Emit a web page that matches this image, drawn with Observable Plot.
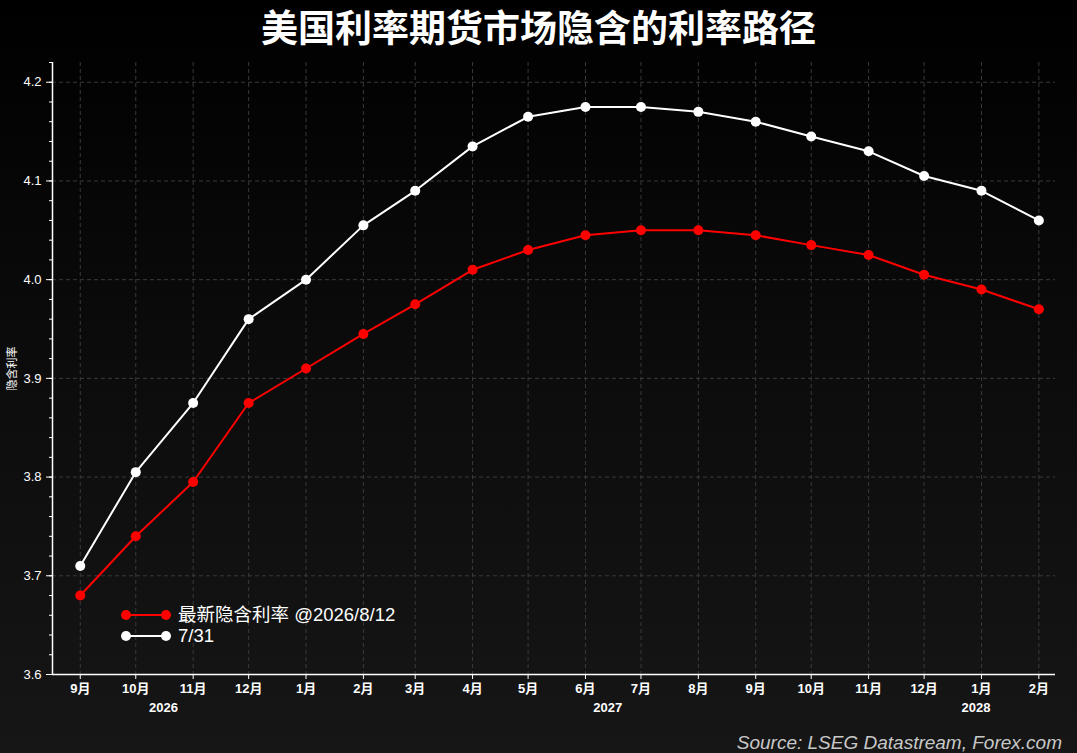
<!DOCTYPE html>
<html><head><meta charset="utf-8">
<script src="https://cdn.jsdelivr.net/npm/d3@7"></script>
<script src="https://cdn.jsdelivr.net/npm/@observablehq/plot@0.6"></script>
<style>
html,body{margin:0;padding:0;}
body{width:1077px;height:753px;overflow:hidden;background:linear-gradient(#000 0%,#0b0b0b 45%,#161616 100%);position:relative;font-family:"Liberation Sans","Noto Sans CJK SC",sans-serif;color:#fff;}
#title{height:55px;line-height:52px;text-align:center;font-size:37px;font-weight:bold;font-family:"Noto Sans CJK SC",sans-serif;color:#fff;margin:0;}
#chart{position:absolute;left:0;top:55px;}
#source{position:absolute;right:15px;top:732px;font-size:19px;font-style:italic;color:#c8c8c8;font-family:"Liberation Sans",Arial,sans-serif;}
#legend{position:absolute;left:120px;top:604px;font-size:18.5px;color:#fff;font-family:"Liberation Sans","Noto Sans CJK SC",sans-serif;}
#legend .row{display:flex;align-items:center;height:21px;overflow:visible;}
#legend span{line-height:18px;display:inline-block;height:18px;}
#legend svg{margin-right:6px;}
</style></head>
<body>
<div id="title">美国利率期货市场隐含的利率路径</div>
<div id="chart"></div>
<div id="legend"></div>
<div id="source">Source: LSEG Datastream, Forex.com</div>
<script>
const months = ["2026-09-01","2026-10-01","2026-11-01","2026-12-01","2027-01-01","2027-02-01","2027-03-01","2027-04-01","2027-05-01","2027-06-01","2027-07-01","2027-08-01","2027-09-01","2027-10-01","2027-11-01","2027-12-01","2028-01-01","2028-02-01"];
const latest = [3.68,3.74,3.795,3.875,3.91,3.945,3.975,4.01,4.03,4.045,4.05,4.05,4.045,4.035,4.025,4.005,3.99,3.97];
const prior = [3.71,3.805,3.875,3.96,4.00,4.055,4.09,4.135,4.165,4.175,4.175,4.17,4.16,4.145,4.13,4.105,4.09,4.06];
const seriesNames = ["最新隐含利率 @2026/8/12","7/31"];
const seriesColors = ["#ff0000","#ffffff"];
const yTicks = [3.6,3.7,3.8,3.9,4.0,4.1,4.2];
const years = [{label:"2026",date:"2026-10-16"},{label:"2027",date:"2027-06-13"},{label:"2028",date:"2027-12-29"}];

const dates = months.map(d => new Date(d + "T00:00:00"));
const rows = [];
dates.forEach((d,i) => { rows.push({date:d, v:latest[i], s:seriesNames[0]}); });
dates.forEach((d,i) => { rows.push({date:d, v:prior[i], s:seriesNames[1]}); });
const yearRows = years.map(y => ({date:new Date(y.date+"T00:00:00"), label:y.label}));
const minorTicks = d3.range(3.6, 4.2201, 0.02).map(v => +v.toFixed(2));

const font = "'Liberation Sans','Noto Sans CJK SC',sans-serif";
const chart = Plot.plot({
  width: 1077,
  height: 698,
  marginLeft: 52,
  marginRight: 22,
  marginTop: 7,
  marginBottom: 24+55,
  style: {background: "transparent", color: "#fff", fontFamily: font, fontSize: "13px", overflow: "visible"},
  x: {type: "utc", domain: [new Date("2026-08-17T00:00:00"), new Date("2028-02-10T00:00:00")]},
  y: {domain: [3.6, 4.22]},
  color: {domain: seriesNames, range: seriesColors},
  marks: [
    Plot.gridY(yTicks, {stroke: "#3a3a3a", strokeOpacity: 1, strokeDasharray: "4,3"}),
    Plot.gridX(dates, {stroke: "#3a3a3a", strokeOpacity: 1, strokeDasharray: "4,3"}),
    Plot.axisY(minorTicks, {tickSize: 3, tickFormat: null, text: null, label: null, stroke: "#fff"}),
    Plot.axisY(yTicks, {tickSize: 6, tickPadding: 5, tickFormat: d => d.toFixed(1), fill: "#fff", stroke: "#fff",
      label: "隐含利率", labelAnchor: "center", labelArrow: "none", labelOffset: 44, fontSize: 13}),
    Plot.axisX(dates, {tickSize: 5, tickPadding: 4, tickFormat: d => (d.getMonth()+1) + "月", fill: "#fff", stroke: "#fff", fontWeight: "bold", fontSize: 13, label: null}),
    Plot.ruleY([3.6], {stroke: "#fff", strokeWidth: 1.5}),
    Plot.ruleX([new Date("2026-08-17T00:00:00")], {stroke: "#fff", strokeWidth: 1.5}),
    Plot.text(yearRows, {x: "date", y: 3.6, text: "label", dy: 33, fill: "#fff", fontWeight: "bold", fontSize: 13}),
    Plot.line(rows, {x: "date", y: "v", stroke: "s", z: "s", strokeWidth: 2}),
    Plot.dot(rows, {x: "date", y: "v", fill: "s", r: 5})
  ]
});
document.getElementById("chart").appendChild(chart);
const lab = chart.querySelectorAll("[aria-label='y-axis label'] text, g[aria-label='y-axis label'] text");
lab.forEach(t => { t.setAttribute("font-size", "11"); t.style.fontSize = "11px"; });

const legend = document.getElementById("legend");
seriesNames.forEach((n,i) => {
  const row = document.createElement("div");
  row.className = "row";
  const c = seriesColors[i];
  row.innerHTML = `<svg width="52" height="14"><line x1="6" y1="7" x2="46" y2="7" stroke="${c}" stroke-width="2"/><circle cx="6" cy="7" r="5" fill="${c}"/><circle cx="46" cy="7" r="5" fill="${c}"/></svg><span>${n}</span>`;
  legend.appendChild(row);
});
</script>
</body></html>
